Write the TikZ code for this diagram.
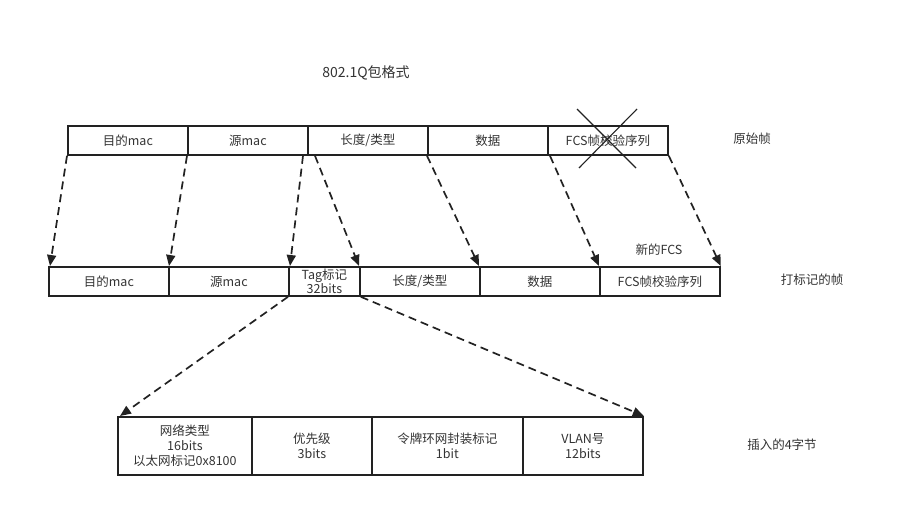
\documentclass[tikz,border=0pt]{standalone}
\usepackage{fontspec}
\setmainfont{Noto Sans CJK SC}
\usetikzlibrary{arrows.meta}
\definecolor{ink}{HTML}{333333}
\definecolor{edge}{HTML}{222222}
\tikzset{
  fbox/.style={draw=edge, line width=1.8pt, rectangle, inner sep=0pt, anchor=north west,
    minimum height=29pt, text=ink, font=\fontsize{12.5}{14}\selectfont, align=center},
  lbl/.style={text=ink, font=\fontsize{12.5}{14}\selectfont, inner sep=0pt},
  darr/.style={draw=edge, line width=1.7pt, dash pattern=on 8pt off 5pt,
    -{Triangle[length=11pt,width=9pt]}},
  xline/.style={draw=edge, line width=1.1pt}
}
\begin{document}
\begin{tikzpicture}[x=1pt,y=-1pt]
\useasboundingbox (0,0) rectangle (924,507);
% title
\node[lbl, font=\fontsize{14}{16}\selectfont] (title) at (366,73) {802.1Q包格式};
% original frame
\node[fbox, minimum width=120pt] (t1) at (67,125) {目的mac};
\node[fbox, minimum width=120pt] (t2) at (187,125) {源mac};
\node[fbox, minimum width=120pt] (t3) at (307,125) {长度/类型};
\node[fbox, minimum width=120pt] (t4) at (427,125) {数据};
\node[fbox, minimum width=120pt] (t5) at (547,125) {FCS帧校验序列};
\node[lbl] (orig) at (752,139) {原始帧};
% cross
\coordinate (xa) at (577,109);
\coordinate (xb) at (636,168);
\coordinate (xc) at (637,109);
\coordinate (xd) at (579,168);
\draw[xline] (xa) -- (xb);
\draw[xline] (xc) -- (xd);
% tagged frame
\node[fbox, minimum width=120pt] (m1) at (48,266) {目的mac};
\node[fbox, minimum width=120pt] (m2) at (168,266) {源mac};
\node[fbox, minimum width=71pt, font=\fontsize{12.5}{12.5}\selectfont] (m3) at (288,266) {Tag标记\\32bits};
\node[fbox, minimum width=120pt] (m4) at (359,266) {长度/类型};
\node[fbox, minimum width=120pt] (m5) at (479,266) {数据};
\node[fbox, minimum width=120pt] (m6) at (599,266) {FCS帧校验序列};
\node[lbl] (newfcs) at (659,250) {新的FCS};
\node[lbl] (tagged) at (812,280) {打标记的帧};
% 4 bytes
\node[fbox, minimum width=134pt, minimum height=58pt, font=\fontsize{12.5}{15}\selectfont] (b1) at (117,416) {网络类型\\16bits\\以太网标记0x8100};
\node[fbox, minimum width=120pt, minimum height=58pt, font=\fontsize{12.5}{15}\selectfont] (b2) at (251,416) {优先级\\3bits};
\node[fbox, minimum width=151pt, minimum height=58pt, font=\fontsize{12.5}{15}\selectfont] (b3) at (371,416) {令牌环网封装标记\\1bit};
\node[fbox, minimum width=120pt, minimum height=58pt, font=\fontsize{12.5}{15}\selectfont] (b4) at (522,416) {VLAN号\\12bits};
\node[lbl] (ins) at (782,445) {插入的4字节};
% arrows
\draw[darr] (t1.south west) -- ([xshift=2pt]m1.north west);
\draw[darr] (t2.south west) -- ([xshift=1pt]m2.north west);
\draw[darr] ([xshift=-4pt]t3.south west) -- ([xshift=2pt]m3.north west);
\draw[darr] ([xshift=8pt]t3.south west) -- (m4.north west);
\draw[darr] (t4.south west) -- (m5.north west);
\draw[darr] ([xshift=3pt]t5.south west) -- (m6.north west);
\draw[darr] (t5.south east) -- (m6.north east);
\draw[darr] (m3.south west) -- ([xshift=3pt]b1.north west);
\draw[darr] (m3.south east) -- (b4.north east);
\end{tikzpicture}
\end{document}
